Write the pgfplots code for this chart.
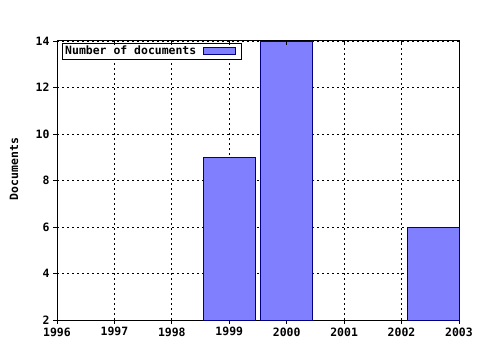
\documentclass[border=0pt]{standalone}
\usepackage{pgfplots}
\pgfplotsset{compat=1.18}
\usepackage{fontspec}
\setmainfont{DejaVu Sans Mono}
\definecolor{barfill}{HTML}{8080FF}
\definecolor{baredge}{HTML}{000080}
\begin{document}
\begin{tikzpicture}[x=1bp,y=1bp,font=\fontsize{11.5}{13}\selectfont\bfseries]
\path (0,0) rectangle (480,350);
\begin{axis}[
  at={(57bp,30bp)}, anchor=south west,
  scale only axis, width=402bp, height=279bp,
  xmin=1996, xmax=2003, ymin=2, ymax=14,
  xtick={1996,...,2003},
  xticklabels={1996,1997,1998,1999,2000,2001,2002,2003},
  ytick={2,4,...,14},
  minor x tick num=3,
  xtick pos=bottom, ytick pos=left,
  tick align=outside,
  major tick length=4bp, minor tick length=3bp,
  tick style={black, line width=0.8bp},
  axis line style={black, line width=1bp},
  grid=major,
  major grid style={black, line width=0.8bp, dash pattern=on 2bp off 3bp},
  /pgf/number format/assume math mode=true,
  xticklabel style={/pgf/number format/1000 sep={}},
  legend style={at={(axis cs:1996.1,13.88)}, anchor=north west, draw=black, line width=0.8bp,
    fill=white, inner sep=0.5bp, outer sep=0pt, font=\fontsize{11.5}{13}\selectfont\bfseries,
    legend cell align=left},
  legend plot pos=right,
  legend image code/.code={\draw[fill=barfill, draw=baredge, line width=0.8bp] (0bp,-3.5bp) rectangle (32bp,3.5bp);\path[draw=none, fill=none] (0bp,0bp) rectangle (37bp,0.1bp);},
  clip=true,
]
\addplot[ybar, bar width=0.9, bar shift=0pt, fill=barfill, draw=baredge, line width=0.8bp]
  coordinates {(1999,9) (2000,14) (2002.55,6)};
\addlegendentry{Number of documents\kern5bp}
\end{axis}
\begin{axis}[
  at={(57bp,30bp)}, anchor=south west,
  scale only axis, width=402bp, height=279bp,
  xmin=1996, xmax=2003, ymin=2, ymax=14,
  xtick={1996,...,2003}, xticklabels={},
  minor x tick num=3,
  axis x line*=top, hide y axis,
  tick align=inside,
  major tick length=4bp, minor tick length=3bp,
  tick style={black, line width=0.8bp},
  axis line style={black, line width=1bp, -},
]
\end{axis}
\node[rotate=90] at (14,181) {Documents};
\end{tikzpicture}
\end{document}
